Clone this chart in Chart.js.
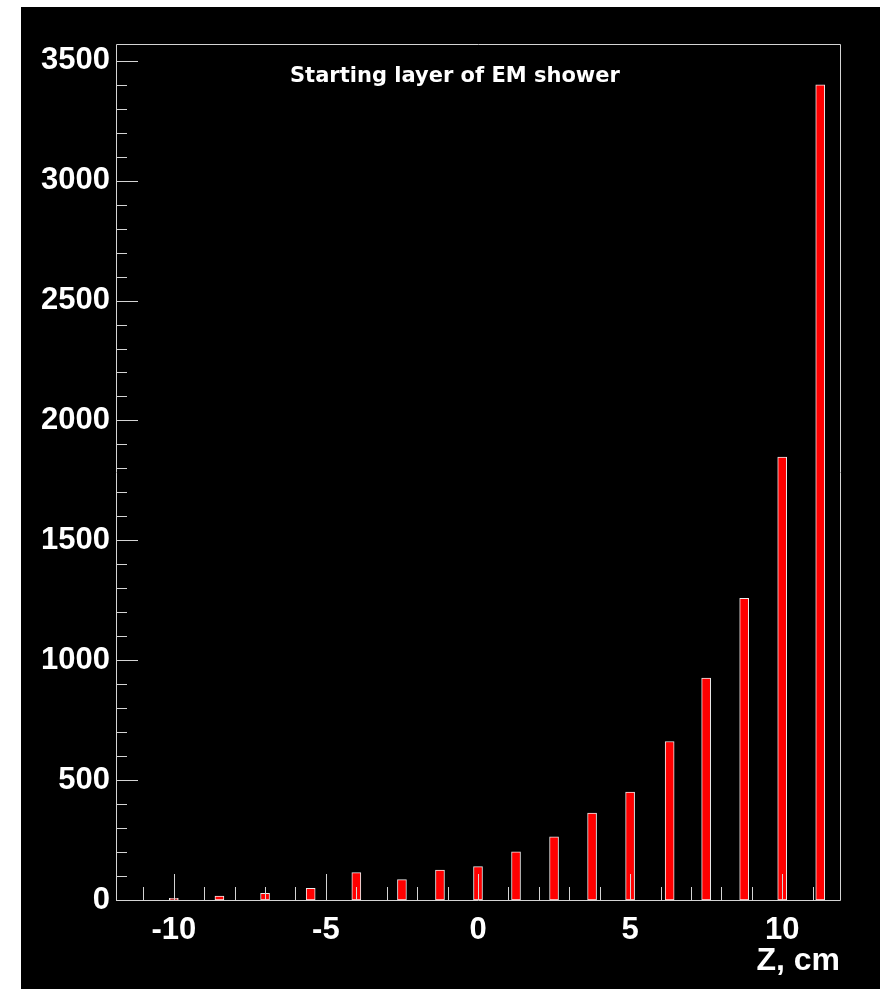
<!DOCTYPE html>
<html>
<head>
<meta charset="utf-8">
<title>Starting layer of EM shower</title>
<script src="https://cdn.jsdelivr.net/npm/chart.js@4.4.1/dist/chart.umd.min.js"></script>
<style>
  html, body { margin: 0; padding: 0; background: #fff; }
  #panel { position: absolute; left: 21px; top: 7px; width: 859px; height: 982px; background: #000; }
  canvas { display: block; }
</style>
</head>
<body>
<div id="panel"><canvas id="shower" width="859" height="982"></canvas></div>
<script>
// layer positions (Z, cm) and counts
const zPositions = [-10, -8.5, -7, -5.5, -4, -2.5, -1.25, 0, 1.25, 2.5, 3.75, 5, 6.3, 7.5, 8.75, 10, 11.25];
const counts = [7, 16, 28, 49, 114, 85, 125, 139, 201, 263, 362, 450, 661, 926, 1258, 1847, 3400];
const xLabelValues = [-10, -5, 0, 5, 10];
const yLabelValues = [0, 500, 1000, 1500, 2000, 2500, 3000, 3500];
const chartTitle = 'Starting layer of EM shower';
const xTitle = 'Z, cm';

const lineCol = '#d4d4d4';

Chart.defaults.font.family = '"Liberation Sans", Arial, sans-serif';
Chart.defaults.font.weight = 'bold';
Chart.defaults.color = '#fff';

// frame, inward ticks (drawn over the bars) and the title inside the frame
const decor = {
  id: 'decor',
  afterDatasetsDraw(chart) {
    const { ctx, chartArea: a, scales: { x, y } } = chart;
    ctx.save();
    ctx.strokeStyle = lineCol;
    ctx.lineWidth = 1;
    ctx.beginPath();
    ctx.rect(Math.round(a.left) + 0.5, Math.round(a.top) + 0.5, Math.round(a.right - a.left), Math.round(a.bottom - a.top));
    x.ticks.forEach(t => {
      const px = Math.round(x.getPixelForValue(t.value)) + 0.5;
      const len = xLabelValues.includes(t.value) ? 26 : 13;
      ctx.moveTo(px, a.bottom);
      ctx.lineTo(px, a.bottom - len);
    });
    y.ticks.forEach(t => {
      const py = Math.round(y.getPixelForValue(t.value)) + 0.5;
      const len = yLabelValues.includes(t.value) ? 22 : 11;
      ctx.moveTo(a.left, py);
      ctx.lineTo(a.left + len, py);
    });
    ctx.stroke();
    ctx.fillStyle = '#fff';
    ctx.font = 'bold 21px "DejaVu Sans"';
    ctx.textBaseline = 'alphabetic';
    ctx.textAlign = 'left';
    ctx.fillText(chartTitle, 269, 75);
    ctx.restore();
  }
};

new Chart(document.getElementById('shower'), {
  type: 'bar',
  data: {
    datasets: [{
      data: zPositions.map((z, i) => ({ x: z, y: counts[i] })),
      backgroundColor: '#ff0000',
      borderColor: '#ececec',
      borderWidth: 1,
      borderSkipped: false,
      barThickness: 9
    }]
  },
  options: {
    responsive: false,
    animation: false,
    layout: { padding: { top: 37, right: 40, bottom: 0, left: 0 } },
    plugins: { legend: { display: false }, tooltip: { enabled: false } },
    scales: {
      x: {
        type: 'linear',
        offset: false,
        min: -11.9,
        max: 11.9,
        grid: { display: false, drawTicks: false, offset: false },
        border: { display: false },
        ticks: {
          stepSize: 1,
          includeBounds: false,
          autoSkip: false,
          maxRotation: 0,
          padding: 12,
          font: { size: 31 },
          callback: v => xLabelValues.includes(v) ? String(v) : ''
        },
        title: {
          display: true,
          text: xTitle,
          align: 'end',
          font: { size: 32 },
          padding: { top: 0, bottom: 9 }
        },
        afterFit: s => { s.height = 89; }
      },
      y: {
        min: 0,
        max: 3570,
        grid: { display: false, drawTicks: false },
        border: { display: false },
        ticks: {
          stepSize: 100,
          includeBounds: false,
          autoSkip: false,
          padding: 6,
          font: { size: 31 },
          callback: v => yLabelValues.includes(v) ? String(v) : ''
        },
        afterFit: s => { s.width = 95; }
      }
    }
  },
  plugins: [decor]
});
</script>
</body>
</html>
